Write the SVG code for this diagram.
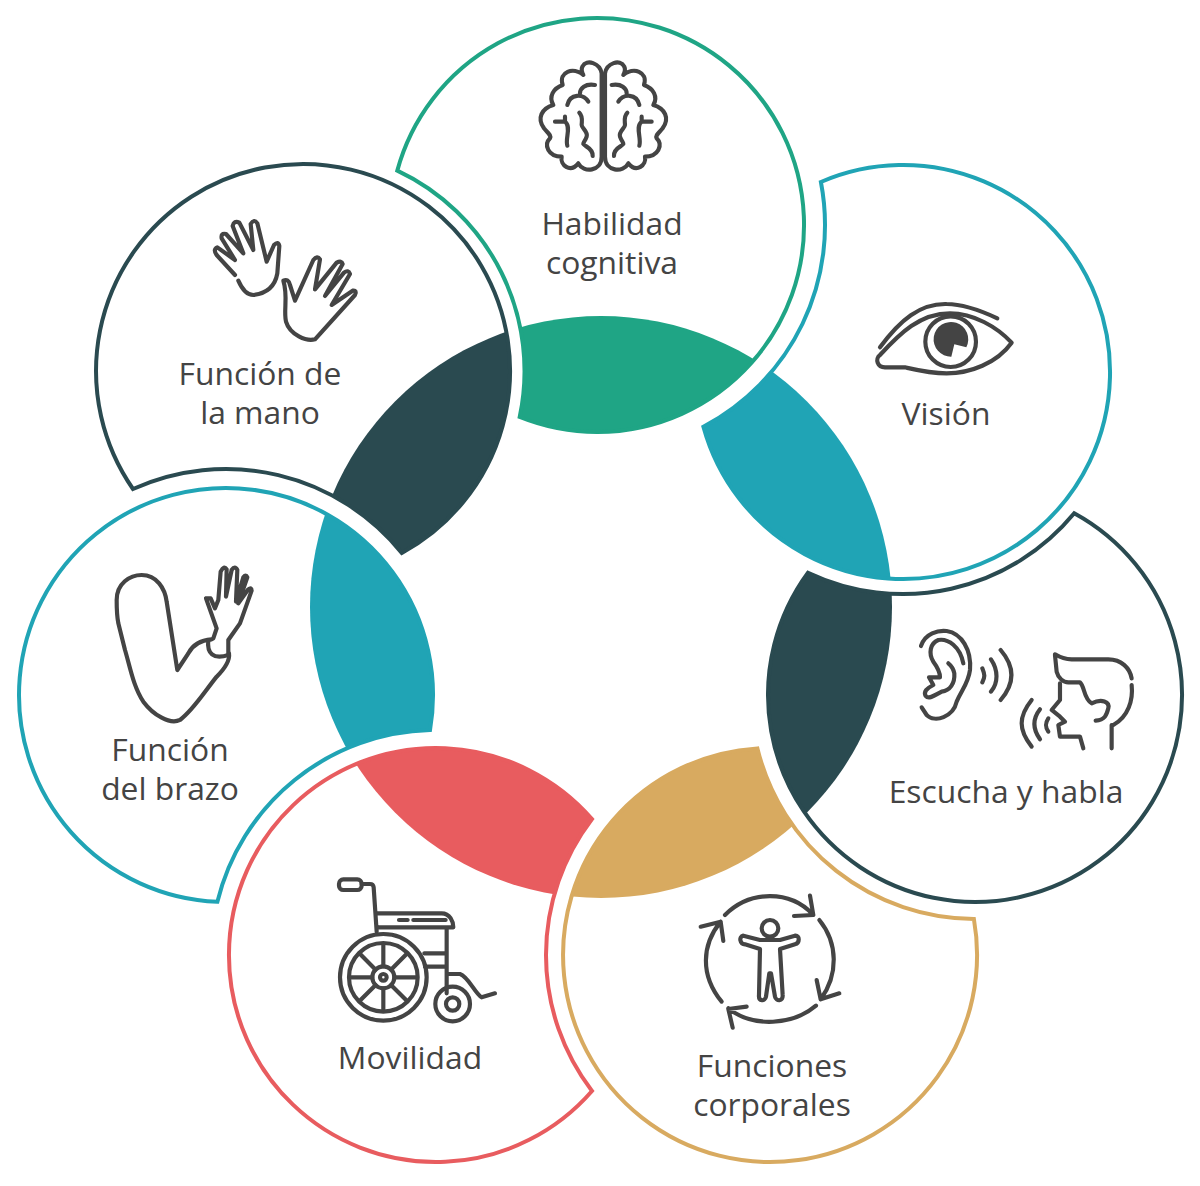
<svg xmlns="http://www.w3.org/2000/svg" xmlns:xlink="http://www.w3.org/1999/xlink" width="1200" height="1186" viewBox="0 0 1200 1186">
<style>
text{font-family:"Open Sans","Noto Sans","Liberation Sans",sans-serif;font-size:31.8px;font-weight:500;fill:#444;text-anchor:middle}
.ring{fill:none;stroke-width:4;stroke-miterlimit:10}
.icon{fill:none;stroke:#444;stroke-width:12.5;stroke-linecap:round;stroke-linejoin:round}
.green{stroke:#1FA585}.teal{stroke:#20A4B5}.dark{stroke:#2A4A50}.gold{stroke:#D8AA60}.red{stroke:#E85C5F}
.fgreen{fill:#1FA585}.fteal{fill:#20A4B5}.fdark{fill:#2A4A50}.fgold{fill:#D8AA60}.fred{fill:#E85C5F}
</style>
<defs>
<clipPath id="core"><circle cx="601" cy="607" r="291"/></clipPath>
<g id="brainHalf">
<path d="M245 70C240 40 200 25 187 50C183 58 185 65 190 75C160 50 115 65 128 105C100 115 85 140 100 165C65 175 50 205 72 235C82 248 95 255 90 265C70 285 85 320 125 320C120 345 150 370 175 340C190 370 245 365 245 320Z"/>
<path d="M225 105C195 100 180 115 180 130M205 155C190 130 150 130 142 165M178 188C190 200 185 215 185 225C185 235 205 245 200 260C195 275 190 275 190 282C195 290 220 295 218 318M105 215L135 215C155 230 135 265 142 287M135 200L135 215"/>
</g>
</defs>

<g id="node-habilidad">
<path class="fgreen" clip-path="url(#core)" d="M397.3 170.6A207 207 0 1 1 519.7 417A221.5 221.5 0 0 0 397.3 170.6Z"/>
<path class="ring green" d="M397.3 170.6A207 207 0 1 1 519.7 417A221.5 221.5 0 0 0 397.3 170.6Z"/>
<g class="icon" transform="translate(520 50) scale(.3333)"><use href="#brainHalf" xlink:href="#brainHalf"/><use href="#brainHalf" xlink:href="#brainHalf" transform="translate(500 0) scale(-1 1)"/></g>
<text x="612" y="235">Habilidad<tspan x="612" dy="39">cognitiva</tspan></text>
</g>

<g id="node-vision">
<path class="fteal" clip-path="url(#core)" d="M820.9 182A207 207 0 1 1 703.4 426.7A228 228 0 0 0 820.9 182Z"/>
<path class="ring teal" d="M820.9 182A207 207 0 1 1 703.4 426.7A228 228 0 0 0 820.9 182Z"/>
<g class="icon" transform="translate(860 290) scale(.3333)">
<path d="M60 172C120 90 180 40 260 42C320 42 380 70 412 85"/>
<path d="M60 195C120 130 180 70 270 70C340 70 410 110 455 158C410 220 330 250 260 250C210 250 170 240 135 232L80 232C50 235 45 205 60 195Z"/>
<circle cx="272" cy="155" r="76"/>
<path d="M283 163L319 172A52 52 0 1 0 274 200Z" fill="#444" stroke="none"/>
</g>
<text x="946" y="425">Visión</text>
</g>

<g id="node-escucha">
<path class="fdark" clip-path="url(#core)" d="M1074.2 513.3A207 207 0 1 1 808 572.7A222 222 0 0 0 1074.2 513.3Z"/>
<path class="ring dark" d="M1074.2 513.3A207 207 0 1 1 808 572.7A222 222 0 0 0 1074.2 513.3Z"/>
<g class="icon" transform="translate(905 620) scale(.3333)">
<path d="M48 78C60 40 100 30 125 33C170 40 200 90 195 150C190 190 170 210 155 245C145 290 90 310 65 285L50 262"/>
<path d="M175 130C165 80 130 55 100 60C75 70 70 100 85 125C100 145 105 160 105 172L72 172L85 195C65 205 55 215 62 228C72 240 90 225 110 215C135 212 150 190 148 160C145 145 140 138 130 130"/>
<path d="M232 145C240 165 240 170 232 187M258 118C280 150 280 190 258 215M287 90C330 140 330 190 287 240"/>
<path d="M450 103C470 115 480 118 500 118L610 118C650 118 675 145 680 175M680 195C685 240 670 290 625 315L620 315L620 385"/>
<path d="M450 105L455 155C460 175 475 187 490 187L525 187C540 200 535 235 560 250C590 235 615 245 610 265C605 285 600 300 572 302"/>
<path d="M465 190L465 240L440 270L465 290L480 305L460 315L465 350L525 350L535 385"/>
<path d="M380 240C340 290 340 330 380 380M405 268C380 300 385 330 405 358M430 295C420 310 420 320 430 335"/>
</g>
<text x="1006" y="803">Escucha y habla</text>
</g>

<g id="node-funciones">
<path class="fgold" clip-path="url(#core)" d="M973.9 919A207 207 0 1 1 757.4 748.4A224 224 0 0 0 973.9 919Z"/>
<path class="ring gold" d="M973.9 919A207 207 0 1 1 757.4 748.4A224 224 0 0 0 973.9 919Z"/>
<g class="icon" transform="translate(690 885) scale(.3333)">
<circle cx="240" cy="130" r="25"/>
<path d="M160 152C145 155 150 178 165 178L210 192L207 330C205 350 225 350 228 335L238 265L243 265L255 335C258 350 280 350 278 330L270 192L315 178C330 175 330 150 315 152L270 165L210 165Z"/>
<path d="M105 90C180 15 300 15 368 88M360 32L370 90L312 93"/>
<path d="M388 105C445 175 445 270 392 343M380 285L392 343L448 325"/>
<path d="M378 362C310 420 190 430 115 370M170 365L115 372L128 428"/>
<path d="M95 350C30 270 35 180 92 110M32 125L92 110L100 168"/>
</g>
<text x="772" y="1077">Funciones<tspan x="772" dy="39">corporales</tspan></text>
</g>

<g id="node-movilidad">
<path class="fred" clip-path="url(#core)" d="M592 1091A207 207 0 1 1 592 819A224 224 0 0 0 592 1091Z"/>
<path class="ring red" d="M592 1091A207 207 0 1 1 592 819A224 224 0 0 0 592 1091Z"/>
<g class="icon" transform="translate(325 870) scale(.3333)">
<rect x="42" y="28" width="68" height="32" rx="13"/>
<path d="M110 42L135 42Q145 42 146 52L155 185M158 130L350 130C375 130 385 155 385 172L160 172M222 150L248 150M265 150L362 150M365 172L365 370M298 250L365 250M300 290L365 290M365 312L405 312C430 320 450 370 470 382L510 370"/>
<circle cx="175" cy="322" r="130"/><circle cx="175" cy="322" r="103"/><circle cx="175" cy="322" r="33"/><circle cx="175" cy="322" r="10"/>
<path d="M175 225V289M175 355V419M78 322H142M208 322H272M106 253L152 299M198 345L244 391M244 253L198 299M152 345L106 391"/>
<circle cx="383" cy="402" r="52"/><circle cx="383" cy="402" r="20"/>
</g>
<text x="410" y="1069">Movilidad</text>
</g>

<g id="node-brazo">
<path class="fteal" clip-path="url(#core)" d="M217.4 901.8A207 207 0 1 1 430 730.1A225 225 0 0 0 217.4 901.8Z"/>
<path class="ring teal" d="M217.4 901.8A207 207 0 1 1 430 730.1A225 225 0 0 0 217.4 901.8Z"/>
<g class="icon" transform="translate(100 560) scale(.3333)">
<path d="M335 238C310 240 280 250 265 280L232 330L200 125C195 85 170 45 125 45C90 45 50 70 50 120C50 140 50 165 55 190L75 270C90 320 100 380 130 425C160 465 210 495 240 480C280 450 310 400 350 350C375 325 390 300 387 280"/>
<path d="M325 240C320 280 340 300 385 285"/>
<path d="M340 235L350 205L318 115L332 115L345 145L355 120L362 35Q372 15 380 28L378 110L395 30Q405 15 412 30L408 125L430 52Q438 42 442 52L415 130L445 88Q455 80 455 92L420 190L385 240L385 285"/>
</g>
<text x="170" y="761">Función<tspan x="170" dy="39">del brazo</tspan></text>
</g>

<g id="node-mano">
<path class="fdark" clip-path="url(#core)" d="M133 489A207 207 0 1 1 401.8 552.9A226 226 0 0 0 133 489Z"/>
<path class="ring dark" d="M133 489A207 207 0 1 1 401.8 552.9A226 226 0 0 0 133 489Z"/>
<g class="icon" transform="translate(200 210) scale(.3333)">
<path d="M105 195L50 135Q38 118 52 112L105 150L65 85Q62 68 78 72L130 130L98 48Q102 30 118 38L160 120L152 42Q162 25 172 40L200 155L222 105Q235 92 238 108L232 190C225 230 200 250 160 255C140 255 125 235 115 212"/>
<path d="M250 212Q265 205 270 225L285 272L340 150Q352 135 360 148L345 238L410 158Q425 150 428 162L375 258L432 188Q445 178 450 192L395 285L458 242Q472 240 465 255L345 388C320 395 270 375 258 335C250 300 265 260 250 212Z"/>
</g>
<text x="260" y="385">Función de<tspan x="260" dy="39">la mano</tspan></text>
</g>
</svg>
